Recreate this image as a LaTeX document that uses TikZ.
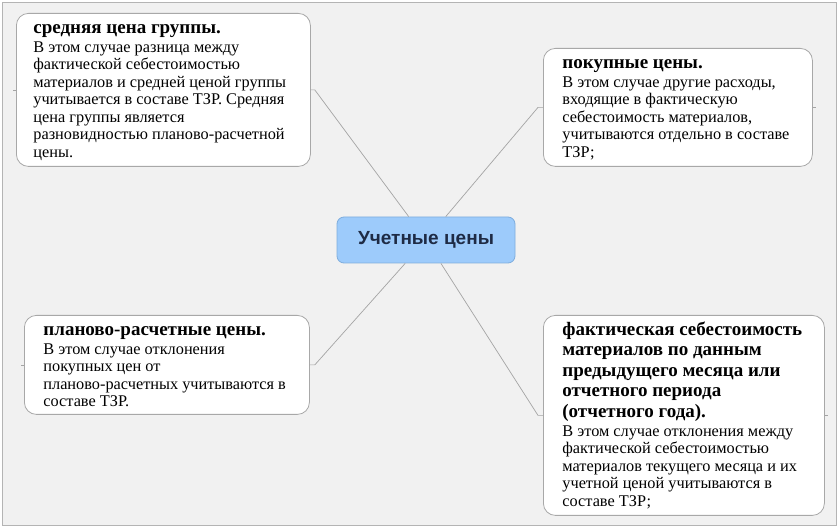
\documentclass[tikz,border=0pt]{standalone}
\usepackage{fontspec}
\newfontfamily\ucserif{Liberation Serif}
\newfontfamily\ucsans{Liberation Sans}
\usetikzlibrary{positioning, calc}
\definecolor{ucbg}{HTML}{F1F1F1}
\definecolor{ucframe}{HTML}{B4B4B4}
\definecolor{ucedge}{HTML}{A8A8A8}
\definecolor{uclink}{HTML}{A4A4A4}
\definecolor{ucblue}{HTML}{9DCBFB}
\definecolor{ucblueedge}{HTML}{7EADDD}
\definecolor{ucnavy}{HTML}{1E2B45}
\newcommand{\uctitle}{\ucserif\fontsize{19}{20.5}\selectfont\bfseries}
\newcommand{\ucbody}{\ucserif\fontsize{16.3}{17.5}\selectfont\mdseries}
% card text: height, width, bold head, plain body
\newcommand{\uccard}[4]{%
  \parbox[t][#1][t]{#2}{\raggedright\hfuzz=20pt
    \uctitle\rule{0pt}{20pt}#3\par\vspace{1.5pt}
    \ucbody #4\par}}

\begin{document}
\begin{tikzpicture}[
    x=1pt, y=-1pt,
    % ---- shared styles ---------------------------------------------------
    frame/.style={draw=ucframe, fill=ucbg, line width=1pt},
    card/.style={draw=ucedge, fill=white, line width=0.8pt,
                 rounded corners=12pt, anchor=north west,
                 inner xsep=19pt, inner ysep=0pt, align=left},
    hub/.style={draw=ucblueedge, fill=ucblue, line width=0.8pt,
                rounded corners=7pt, minimum width=178pt, minimum height=46pt,
                inner sep=0pt, text=ucnavy,
                font=\ucsans\bfseries\fontsize{19}{22}\selectfont},
    link/.style={draw=uclink, line width=0.7pt},
  ]
\useasboundingbox (0,0) rectangle (839,529);
\draw[frame] (2.5,2.5) rectangle (836,526);

% =========================================================================
% CENTRE
% =========================================================================
\node[hub] (ctr) at (426,240) {Учетные цены};

% =========================================================================
% CARDS
% =========================================================================
\node[card, inner xsep=17pt] (avg) at (16,13)
  {\uccard{153pt}{260pt}{средняя цена группы.}{%
   В этом случае разница между\\
   фактической себестоимостью\\
   материалов и средней ценой группы\\
   учитывается в составе ТЗР. Средняя\\
   цена группы является\\
   разновидностью планово-расчетной\\
   цены.}};

\node[card] (buy) at (543,48)
  {\uccard{118pt}{231pt}{покупные цены.}{%
   В этом случае другие расходы,\\
   входящие в фактическую\\
   себестоимость материалов,\\
   учитываются отдельно в составе\\
   ТЗР;}};

\node[card] (plan) at (24,315)
  {\uccard{99pt}{247pt}{планово-расчетные цены.}{%
   В этом случае отклонения\\
   покупных цен от\\
   планово-расчетных учитываются в\\
   составе ТЗР.}};

\node[card] (fact) at (543,315)
  {\uccard{200pt}{243pt}{фактическая себестоимость\\
   материалов по данным\\
   предыдущего месяца или\\
   отчетного периода\\
   (отчетного года).}{%
   В этом случае отклонения между\\
   фактической себестоимостью\\
   материалов текущего месяца и их\\
   учетной ценой учитываются в\\
   составе ТЗР;}};

% =========================================================================
% LINKS -- hub to each card, plus the short stubs on the far sides
% =========================================================================
\draw[link] (ctr) -- ([xshift=4pt]avg.east) -- (avg.east);
\draw[link] (ctr) -- ([xshift=-5pt]buy.west) -- (buy.west);
\draw[link] (ctr) -- ([xshift=5pt]plan.east) -- (plan.east);
\draw[link] (ctr) -- ([xshift=-5pt]fact.west) -- (fact.west);

\draw[link] (avg.west) -- ++(-3,0);
\draw[link] (plan.west) -- ++(-3,0);
\draw[link] (buy.east) -- ++(3,0);
\draw[link] (fact.east) -- ++(3,0);

\end{tikzpicture}
\end{document}
